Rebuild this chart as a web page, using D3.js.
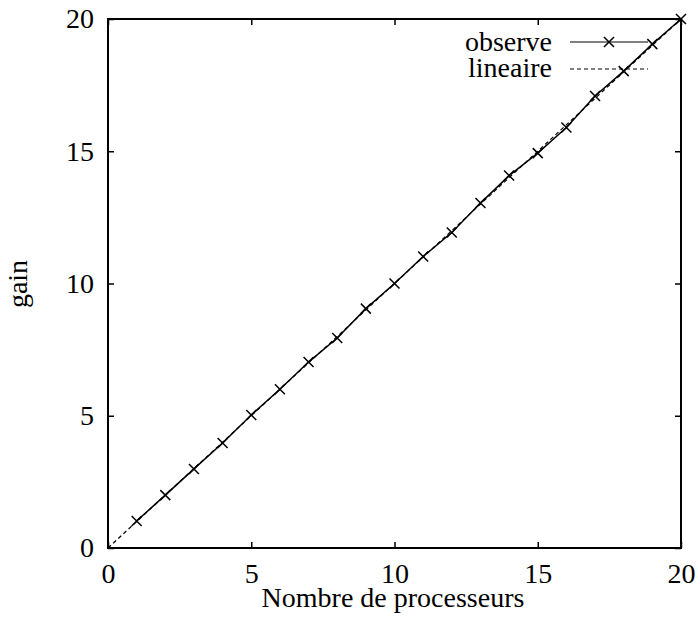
<!DOCTYPE html>
<html><head><meta charset="utf-8">
<script src="https://cdn.jsdelivr.net/npm/d3@7"></script>
<style>body{margin:0;background:#fff}svg{display:block}</style>
</head><body>
<svg id="c" width="696" height="617">
<text id="xt" x="393" y="607" text-anchor="middle" font-family="Liberation Serif" font-size="28">Nombre de processeurs</text>
<text id="yt" transform="translate(27,284) rotate(-90)" text-anchor="middle" font-family="Liberation Serif" font-size="28">gain</text>
</svg>
<script>
const procs = [1,2,3,4,5,6,7,8,9,10,11,12,13,14,15,16,17,18,19,20];
const observe = [1.02,2.0,2.99,3.97,5.03,6.0,7.03,7.94,9.05,10.0,11.02,11.93,13.04,14.08,14.93,15.9,17.09,18.03,19.05,20.0];
const linX = [0,20];
const ticks = [0,5,10,15,20];
const seriesNames = ["observe","lineaire"];

const svg = d3.select("#c");
const L=108,R=681,T=19,B=548;
const x = d3.scaleLinear().domain([0,20]).range([L,R]);
const y = d3.scaleLinear().domain([0,20]).range([B,T]);
const FF = "Liberation Serif";
const fs = 28;

function style(a){
  a.attr("font-family",FF).attr("font-size",fs);
  a.select(".domain").remove();
  a.selectAll("line").attr("stroke","#000").attr("stroke-width",1.5);
  a.selectAll("text").attr("font-family",FF).attr("font-size",fs).attr("fill","#000");
}
svg.append("g").attr("transform",`translate(0,${B})`).call(d3.axisBottom(x).tickValues(ticks).tickSizeInner(-6).tickSizeOuter(0).tickPadding(15)).call(style);
svg.append("g").attr("transform",`translate(0,${T})`).call(d3.axisTop(x).tickValues(ticks).tickSizeInner(-6).tickSizeOuter(0).tickFormat("")).call(style);
svg.append("g").attr("transform",`translate(${L},0)`).call(d3.axisLeft(y).tickValues(ticks).tickSizeInner(-6).tickSizeOuter(0).tickPadding(14)).call(style);
svg.append("g").attr("transform",`translate(${R},0)`).call(d3.axisRight(y).tickValues(ticks).tickSizeInner(-6).tickSizeOuter(0).tickFormat("")).call(style);

svg.append("rect").attr("x",L).attr("y",T).attr("width",R-L).attr("height",B-T).attr("fill","none").attr("stroke","#000").attr("stroke-width",2);

svg.append("path").datum(linX).attr("d",d3.line().x(d=>x(d)).y(d=>y(d))).attr("fill","none").attr("stroke","#000").attr("stroke-width",1.2).attr("stroke-dasharray","4,3");

const pts = procs.map((p,i)=>[p,observe[i]]);
svg.append("path").datum(pts).attr("d",d3.line().x(d=>x(d[0])).y(d=>y(d[1]))).attr("fill","none").attr("stroke","#000").attr("stroke-width",1.5);
const m=5;
svg.append("g").selectAll("path").data(pts).join("path")
  .attr("d",d=>{const cx=x(d[0]),cy=y(d[1]);return `M${cx-m},${cy-m}L${cx+m},${cy+m}M${cx-m},${cy+m}L${cx+m},${cy-m}`;})
  .attr("stroke","#000").attr("stroke-width",1.5);

const lx1=570,lx2=648;
svg.append("text").attr("x",552).attr("y",51).attr("text-anchor","end").attr("font-family",FF).attr("font-size",fs).text(seriesNames[0]);
svg.append("line").attr("x1",lx1).attr("x2",lx2).attr("y1",42).attr("y2",42).attr("stroke","#000").attr("stroke-width",1.2);
const mx=(lx1+lx2)/2;
svg.append("path").attr("d",`M${mx-m},${42-m}L${mx+m},${42+m}M${mx-m},${42+m}L${mx+m},${42-m}`).attr("stroke","#000").attr("stroke-width",1.5);
svg.append("text").attr("x",552).attr("y",77).attr("text-anchor","end").attr("font-family",FF).attr("font-size",fs).text(seriesNames[1]);
svg.append("line").attr("x1",lx1).attr("x2",lx2).attr("y1",69).attr("y2",69).attr("stroke","#000").attr("stroke-width",1.2).attr("stroke-dasharray","4,3");
</script>
</body></html>
